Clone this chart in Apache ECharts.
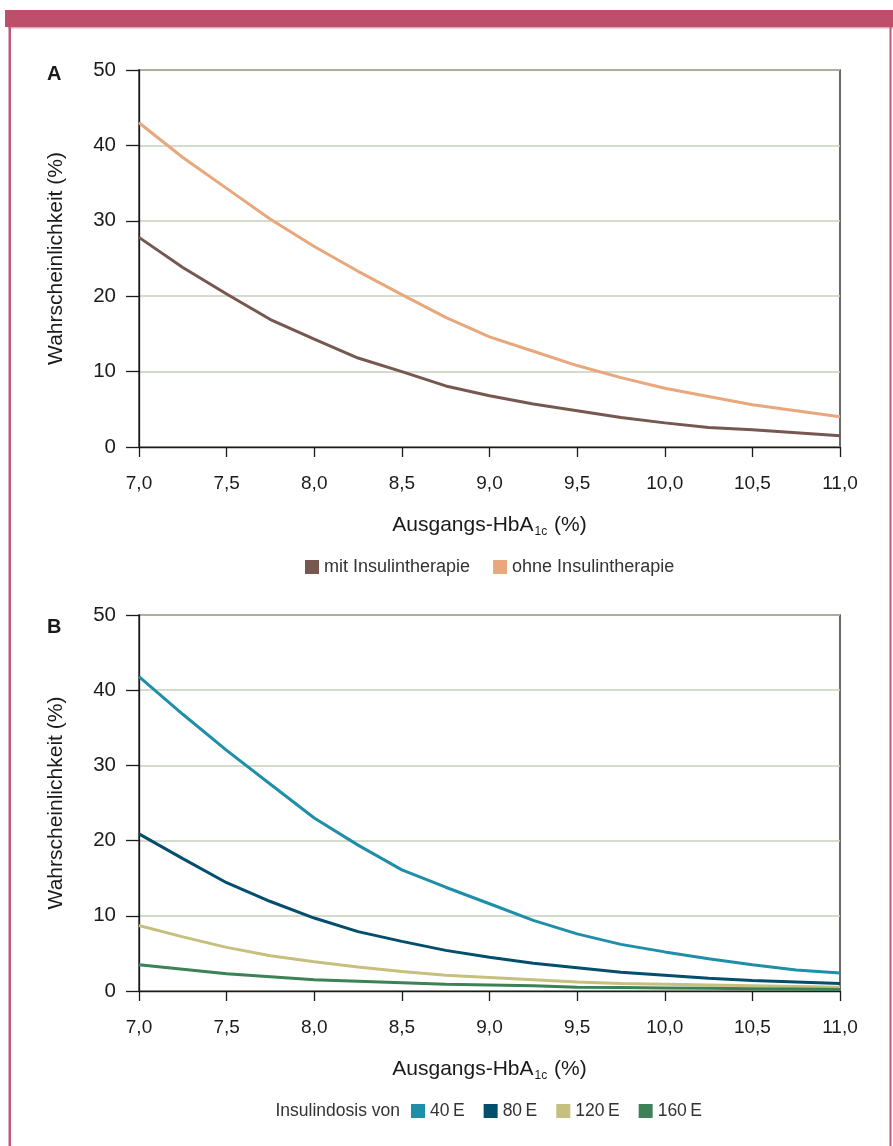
<!DOCTYPE html>
<html>
<head>
<meta charset="utf-8">
<script src="https://cdn.jsdelivr.net/npm/echarts@6/dist/echarts.min.js"></script>
<style>html,body{margin:0;padding:0;background:#fff;}#c{width:893px;height:1146px;}</style>
</head>
<body>
<div id="c"></div>
<script>
// ---- data ----
const hba1c = [7.0, 7.25, 7.5, 7.75, 8.0, 8.25, 8.5, 8.75, 9.0, 9.25, 9.5, 9.75, 10.0, 10.25, 10.5, 10.75, 11.0];
// Panel A
const mitInsulin  = [27.8, 23.8, 20.3, 16.9, 14.3, 11.8, 10.0, 8.1, 6.8, 5.7, 4.8, 3.9, 3.2, 2.6, 2.3, 1.9, 1.5];
const ohneInsulin = [43.0, 38.4, 34.3, 30.2, 26.6, 23.3, 20.2, 17.2, 14.6, 12.7, 10.8, 9.2, 7.8, 6.7, 5.6, 4.8, 4.0];
// Panel B
const dose40  = [41.8, 36.8, 32.0, 27.5, 23.0, 19.4, 16.1, 13.8, 11.6, 9.4, 7.6, 6.2, 5.2, 4.3, 3.5, 2.8, 2.4];
const dose80  = [20.9, 17.6, 14.4, 11.9, 9.7, 7.9, 6.6, 5.4, 4.5, 3.7, 3.1, 2.5, 2.1, 1.7, 1.4, 1.2, 1.0];
const dose120 = [8.7, 7.2, 5.8, 4.7, 3.9, 3.2, 2.6, 2.1, 1.8, 1.5, 1.2, 1.0, 0.9, 0.8, 0.7, 0.6, 0.5];
const dose160 = [3.5, 2.9, 2.3, 1.9, 1.5, 1.3, 1.1, 0.9, 0.8, 0.7, 0.5, 0.45, 0.4, 0.35, 0.3, 0.25, 0.2];
const namesA = ['mit Insulintherapie', 'ohne Insulintherapie'];
const namesB = ['40\u2009E', '80\u2009E', '120\u2009E', '160\u2009E'];
const yTitle = 'Wahrscheinlichkeit (%)';

const FONT = 'Liberation Sans';
const TXT = '#1a1a1a';
const zip = (ys) => hba1c.map((x, i) => [x, ys[i]]);

function xAxis(gi) {
  return {
    type: 'value', gridIndex: gi, min: 7, max: 11, interval: 0.5,
    axisLine: { show: true, lineStyle: { color: '#1a1a1a', width: 1.3 } },
    axisTick: { show: true, inside: false, length: 10, lineStyle: { color: '#1a1a1a', width: 1.3 } },
    axisLabel: { color: TXT, fontSize: 19, fontFamily: FONT, margin: 27,
      formatter: v => v.toFixed(1).replace('.', ',') },
    splitLine: { show: false },
    name: '{a|Ausgangs-HbA}{s|1c}{a| (%)}',
    nameLocation: 'middle', nameGap: 66,
    nameTextStyle: {
      rich: {
        a: { fontSize: 21, fontFamily: FONT, color: TXT },
        s: { fontSize: 12, fontFamily: FONT, color: TXT, padding: [13, 1, 0, 1] }
      }
    }
  };
}
function yAxis(gi) {
  return {
    type: 'value', gridIndex: gi, min: 0, max: 50, interval: 10,
    axisLine: { show: true, lineStyle: { color: '#1a1a1a', width: 1.3 } },
    axisTick: { show: true, inside: false, length: 13, lineStyle: { color: '#1a1a1a', width: 1.3 } },
    axisLabel: { color: TXT, fontSize: 20.5, fontFamily: FONT, margin: 23 },
    splitLine: { show: true, lineStyle: { color: '#c6d1bb', width: 1.5 } },
    name: yTitle, nameLocation: 'middle', nameGap: 72, nameRotate: 90,
    nameTextStyle: { fontSize: 21, fontFamily: FONT, color: TXT }
  };
}
function line(name, ys, color, xi) {
  return {
    name, type: 'line', xAxisIndex: xi, yAxisIndex: xi, data: zip(ys),
    showSymbol: false, symbol: 'none', smooth: false,
    lineStyle: { color, width: 3 }, itemStyle: { color },
    z: 3
  };
}

const chart = echarts.init(document.getElementById('c'), null, { renderer: 'canvas' });
chart.setOption({
  animation: false,
  backgroundColor: '#fff',
  grid: [
    { left: 139, right: 53, top: 70, bottom: 699, show: true, borderColor: '#1a1a1a', borderWidth: 1.3, backgroundColor: 'transparent' },
    { left: 139, right: 53, top: 615, bottom: 155, show: true, borderColor: '#1a1a1a', borderWidth: 1.3, backgroundColor: 'transparent' }
  ],
  xAxis: [xAxis(0), xAxis(1)],
  yAxis: [yAxis(0), yAxis(1)],
  legend: [
    { data: namesA, top: 553, left: 300, icon: 'rect', itemWidth: 14, itemHeight: 14, itemGap: 23, itemStyle: { borderWidth: 0 },
      textStyle: { fontSize: 18, fontFamily: FONT, color: '#333' } },
    { data: namesB, top: 1097, left: 406, icon: 'rect', itemWidth: 14, itemHeight: 14, itemGap: 19, itemStyle: { borderWidth: 0 },
      textStyle: { fontSize: 17.5, fontFamily: FONT, color: '#333' } }
  ],
  series: [
    line(namesA[0], mitInsulin, '#775850', 0),
    line(namesA[1], ohneInsulin, '#e8a77c', 0),
    line(namesB[0], dose40, '#1f8ea8', 1),
    line(namesB[1], dose80, '#024e6d', 1),
    line(namesB[2], dose120, '#c6bf7d', 1),
    line(namesB[3], dose160, '#3c8256', 1)
  ],
  graphic: [
    { type: 'rect', shape: { x: 5, y: 10, width: 888, height: 17 }, style: { fill: '#bd4f6c' } },
    { type: 'rect', shape: { x: 8, y: 27, width: 885, height: 1.5 }, style: { fill: '#e3a9b8' } },
    { type: 'rect', shape: { x: 8.5, y: 27, width: 2.5, height: 1119 }, style: { fill: '#c4587a' } },
    { type: 'rect', shape: { x: 889.5, y: 27, width: 2, height: 1119 }, style: { fill: '#c4587a' } },
    { type: 'text', x: 47, y: 74, style: { text: 'A', fontSize: 20, fontWeight: 'bold', fontFamily: FONT, fill: TXT, textVerticalAlign: 'middle' } },
    { type: 'text', x: 47, y: 627, style: { text: 'B', fontSize: 20, fontWeight: 'bold', fontFamily: FONT, fill: TXT, textVerticalAlign: 'middle' } },
    { type: 'text', x: 400, y: 1111, style: { text: 'Insulindosis von', fontSize: 17.5, fontFamily: FONT, fill: '#333', textAlign: 'right', textVerticalAlign: 'middle' } }
  ]
});
</script>
</body>
</html>
